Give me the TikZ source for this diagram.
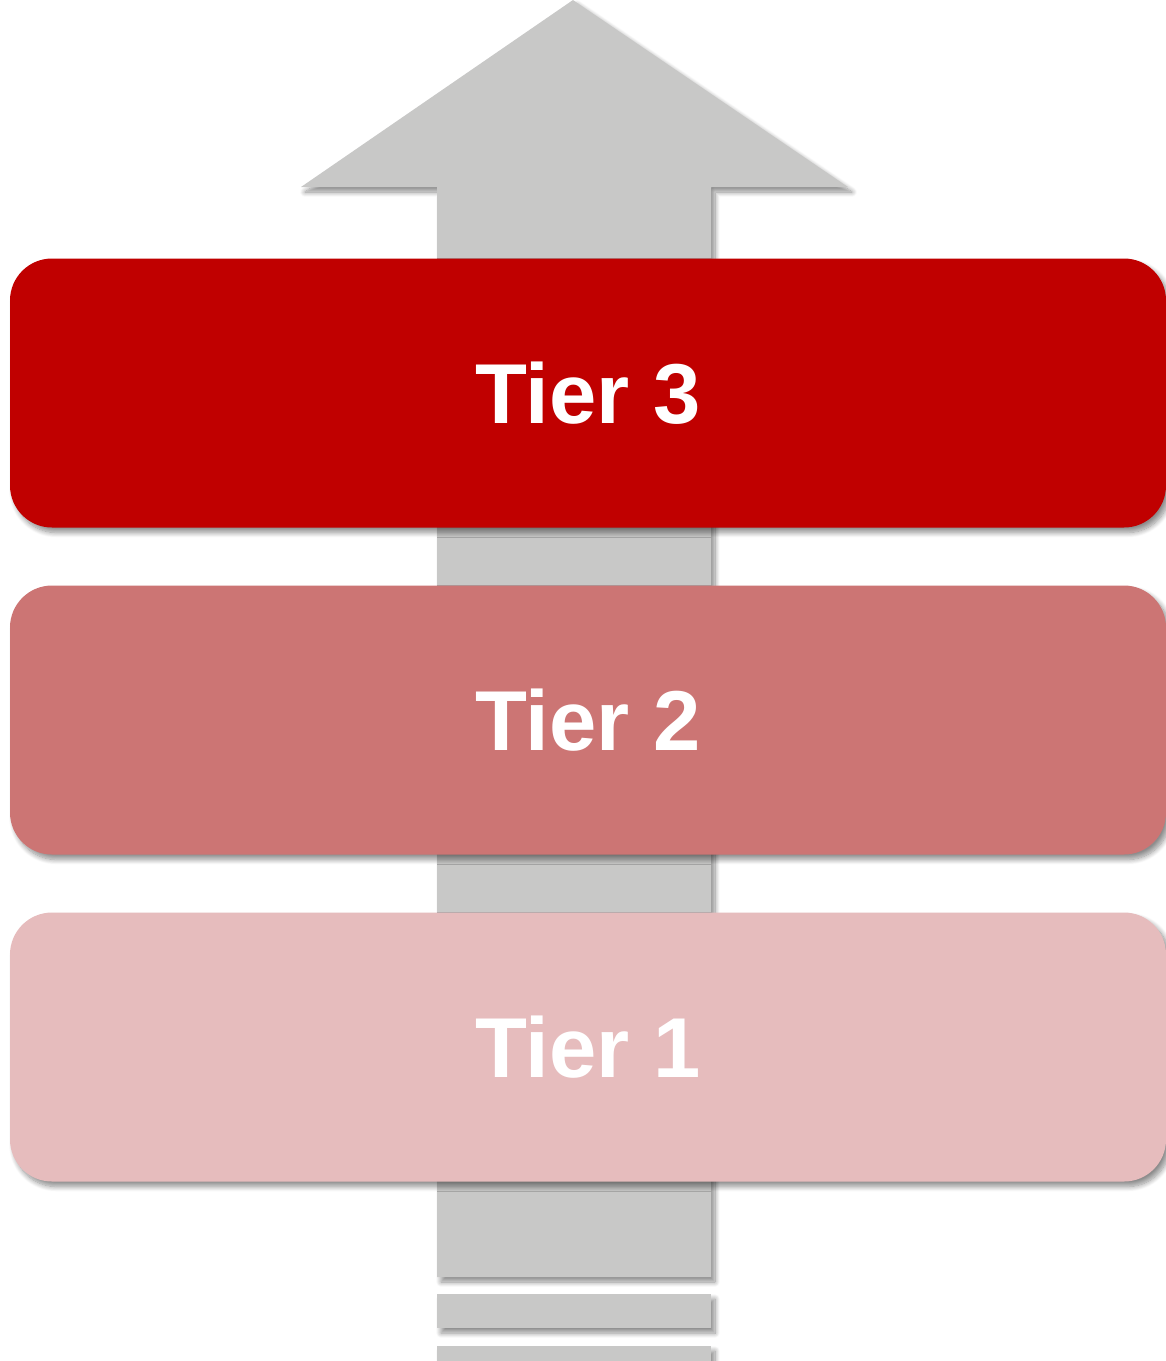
\documentclass[tikz,border=0pt]{standalone}
\usepackage{fontspec}
\setmainfont{Liberation Sans}
\usetikzlibrary{shadows.blur}
\definecolor{arrowgray}{RGB}{200,200,199}
\definecolor{tierthree}{RGB}{192,0,0}
\definecolor{tiertwo}{RGB}{204,117,116}
\definecolor{tierone}{RGB}{230,188,189}
\tikzset{
  softshadow/.style={blur shadow={shadow xshift=4pt, shadow yshift=-5pt, shadow blur steps=10, shadow blur radius=5pt, shadow opacity=45}},
  tierbox/.style={rounded corners=42pt, minimum width=1156pt, minimum height=269pt, inner sep=0pt, text=white, font=\fontsize{85}{90}\selectfont\bfseries, softshadow},
  shaftpart/.style={fill=arrowgray, softshadow}
}
\begin{document}
\begin{tikzpicture}[x=1pt,y=-1pt]
\useasboundingbox (0,0) rectangle (1166,1361);
% arrow
\fill[shaftpart] (437,1346) rectangle (711,1375);
\fill[shaftpart] (437,1294) rectangle (711,1328);
\fill[shaftpart] (573,0) -- (848,187) -- (711,187) -- (711,1277) -- (437,1277) -- (437,187) -- (301,187) -- cycle;
% tiers
\node[tierbox, fill=tierthree] (t3) at (588,393) {Tier 3};
\node[tierbox, fill=tiertwo] (t2) at (588,720) {Tier 2};
\node[tierbox, fill=tierone] (t1) at (588,1047) {Tier 1};
\end{tikzpicture}
\end{document}
